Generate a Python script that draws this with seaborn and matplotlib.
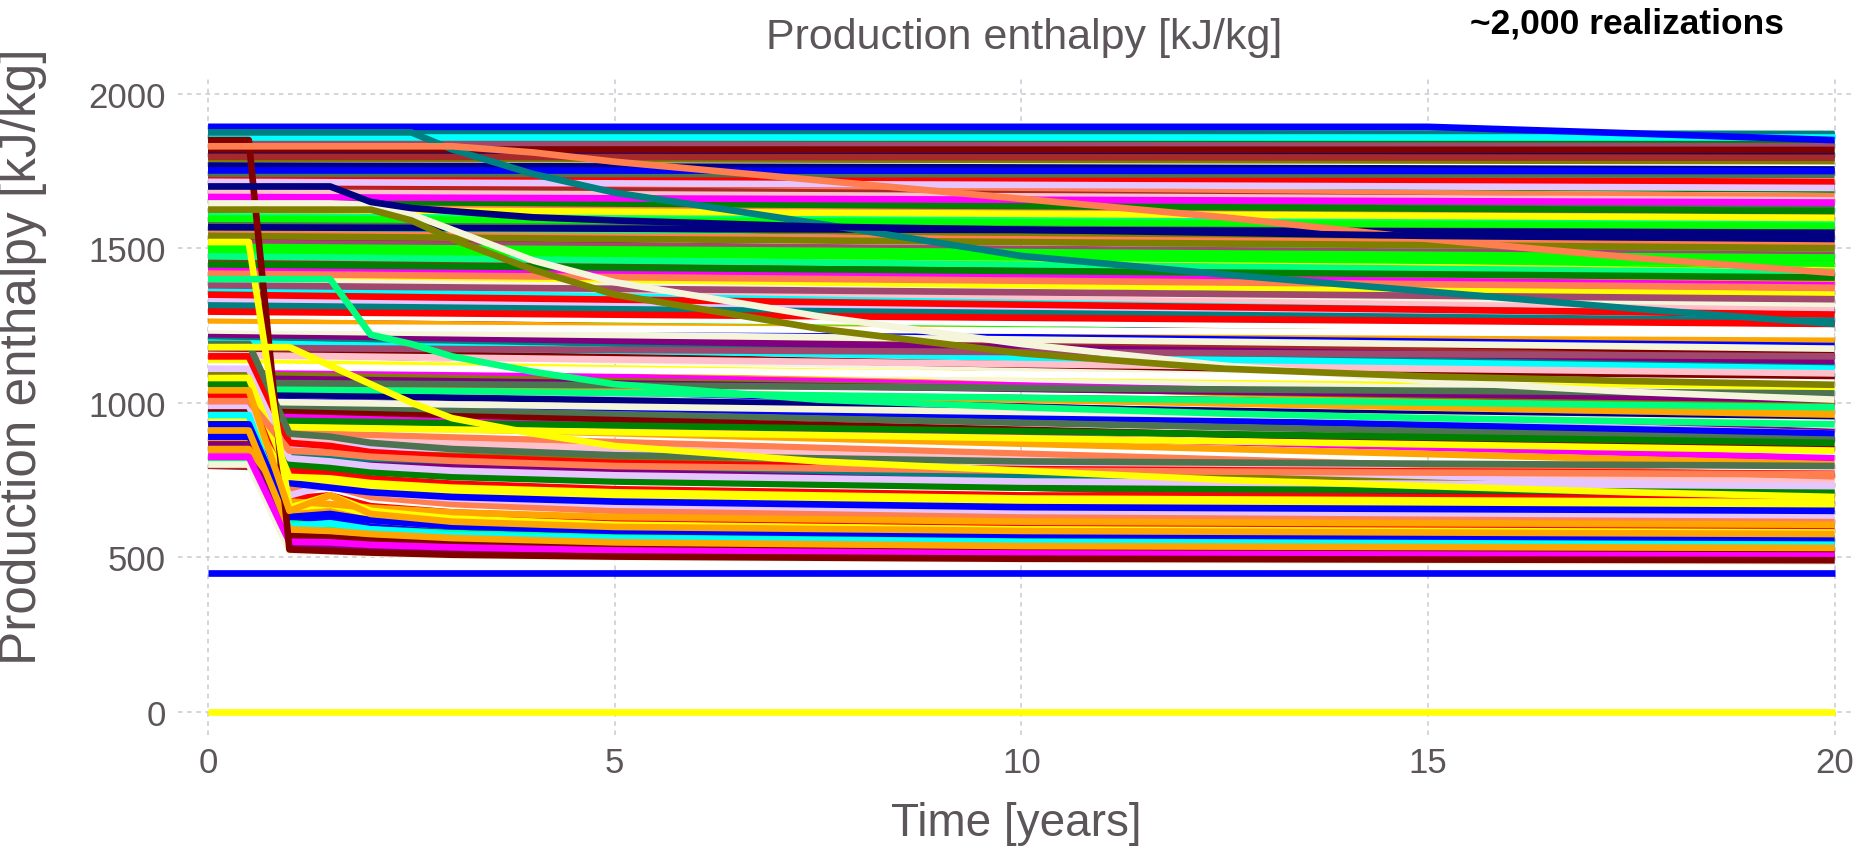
import pandas as pd
import matplotlib
matplotlib.use("Agg")
import matplotlib.pyplot as plt
import seaborn as sns

# ---------------- DATA ----------------

# near-flat realizations: (enthalpy at t=0, enthalpy at t=20)
flat_runs = [
    (1868, 1866), (1512, 1430), (1205, 1010), (1745, 1702), (1040, 990), (1630, 1585), (1321, 1180), (1802, 1790),
    (1150, 960), (1455, 1360), (1688, 1660), (1260, 1120), (1576, 1520), (1846, 1838), (1098, 905), (1405, 1290),
    (1722, 1690), (1181, 1040), (1533, 1445), (1355, 1250), (1612, 1570), (1780, 1770), (1072, 880), (1288, 1190),
    (1480, 1400), (1659, 1625), (1228, 1085), (1826, 1812), (1387, 1300), (1553, 1500), (1125, 980), (1704, 1668),
    (1019, 860), (1442, 1330), (1310, 1215), (1760, 1745), (1590, 1540), (1240, 1150), (1855, 1845), (1163, 1060),
    (1498, 1420), (1672, 1640), (1338, 1262), (1085, 935), (1620, 1600), (1425, 1340), (1733, 1715), (1196, 1095),
    (1275, 1160), (1565, 1480), (1813, 1800), (1111, 1000), (1467, 1390), (1642, 1610), (1372, 1305), (1052, 900),
    (1790, 1782), (1216, 1120), (1526, 1460), (1699, 1650), (1300, 1230), (1140, 1020), (1411, 1350), (1583, 1555),
    (1838, 1830), (1002, 820), (1250, 1190), (1490, 1450), (1711, 1700), (1365, 1280), (1172, 1075), (1604, 1580),
    (1768, 1755), (1435, 1380), (1060, 960), (1547, 1510), (1681, 1655), (1331, 1275), (1093, 1000), (1875, 1870),
    (1222, 1135), (1460, 1410), (1653, 1620), (1396, 1320), (1131, 1050), (1741, 1738), (1518, 1478), (1282, 1235),
    (1010, 900), (1596, 1572), (1350, 1285), (1188, 1110), (1820, 1818), (1474, 1420), (1030, 940), (1666, 1648),
    (1262, 1205), (1418, 1372), (1155, 1095), (1715, 1695), (1540, 1500), (1315, 1265), (1080, 1010), (1796, 1793),
    (1448, 1405), (1234, 1175), (1625, 1598), (990, 880), (1380, 1335), (1118, 1065), (1752, 1750), (1505, 1470),
    (1295, 1255), (1860, 1860), (975, 850), (1047, 985), (1568, 1550), (960, 820), (935, 800), (910, 760),
    (890, 740), (870, 720), (850, 705), (830, 690), (812, 670), (796, 655), (945, 870), (1005, 935),
    (925, 845), (1065, 1030), (1178, 1150), (1245, 1222),
]
flat_times = [0, 20]

# realizations with early thermal breakthrough
drop_times = [0, 0.5, 1, 1.5, 2, 3, 5, 10, 20]
drop_runs = [
    [805, 805, 540, 535, 525, 515, 505, 495, 488],
    [820, 820, 560, 555, 545, 530, 520, 510, 500],
    [830, 830, 580, 575, 562, 548, 535, 522, 512],
    [845, 845, 600, 610, 585, 570, 552, 540, 528],
    [860, 860, 620, 630, 600, 585, 568, 555, 545],
    [880, 880, 640, 650, 620, 600, 585, 570, 560],
    [900, 900, 570, 565, 555, 545, 532, 520, 515],
    [920, 920, 660, 670, 640, 620, 600, 588, 578],
    [950, 950, 690, 700, 665, 645, 625, 610, 598],
    [975, 975, 540, 545, 530, 520, 510, 500, 495],
    [1000, 1000, 720, 730, 695, 672, 650, 632, 620],
    [990, 990, 700, 735, 710, 690, 670, 650, 635],
    [815, 815, 610, 600, 590, 578, 565, 555, 548],
    [865, 865, 530, 528, 520, 512, 505, 497, 492],
    [940, 940, 760, 745, 730, 712, 695, 675, 662],
    [890, 890, 740, 725, 710, 695, 680, 662, 650],
    [1020, 1020, 780, 770, 755, 738, 720, 700, 688],
    [960, 960, 600, 610, 590, 572, 560, 548, 540],
    [1060, 1060, 800, 790, 775, 760, 745, 725, 710],
    [1110, 1110, 820, 810, 795, 780, 765, 745, 730],
    [800, 800, 520, 518, 512, 505, 500, 492, 486],
    [850, 850, 680, 672, 660, 645, 630, 615, 605],
    [930, 930, 630, 640, 620, 600, 585, 572, 562],
    [1080, 1080, 760, 755, 740, 725, 710, 690, 678],
    [1150, 1150, 870, 860, 840, 825, 805, 785, 770],
    [1190, 1190, 900, 890, 870, 850, 830, 810, 795],
    [1005, 1005, 845, 838, 825, 812, 795, 780, 768],
    [825, 825, 550, 548, 540, 532, 522, 512, 505],
    [910, 910, 590, 585, 575, 562, 548, 536, 530],
    [1850, 1850, 525, 520, 515, 508, 502, 495, 490],
    [1520, 1520, 660, 700, 650, 625, 605, 590, 580],
    [1040, 1040, 650, 700, 640, 615, 598, 585, 575],
]
drop_colors = ["#800080", "#a52a2a", "#00ffff", "#ff7f50", "#0000ff", "#ffa500", "#800000", "#ffff00",
               "#ff0000", "#800000", "#ff7f50", "#e6c6ff", "#00ff7f", "#800080", "#ffff00", "#0000ff",
               "#ff0000", "#00ffff", "#008000", "#e6c6ff", "#f5f5dc", "#ffa500", "#0000ff", "#ffff00",
               "#ff0000", "#4d7350", "#ff7f50", "#ff00ff", "#ffa500", "#800000", "#ffff00", "#ffa500"]

# the few realizations that stand out
key_times = [0, 0.5, 1, 1.5, 2, 2.5, 3, 4, 5, 7.5, 10, 12.5, 15, 17.5, 20]
key_runs = [
    [1893, 1893, 1893, 1893, 1893, 1893, 1893, 1893, 1893, 1893, 1893, 1893, 1893, 1872, 1850],
    [1875, 1875, 1875, 1875, 1875, 1875, 1820, 1740, 1680, 1580, 1475, 1415, 1360, 1305, 1255],
    [1830, 1830, 1830, 1830, 1830, 1830, 1830, 1810, 1780, 1720, 1660, 1600, 1530, 1470, 1420],
    [1645, 1645, 1645, 1645, 1640, 1610, 1560, 1460, 1390, 1280, 1190, 1120, 1070, 1035, 1010],
    [1625, 1625, 1625, 1625, 1625, 1590, 1530, 1430, 1350, 1240, 1160, 1110, 1085, 1070, 1058],
    [1700, 1700, 1700, 1700, 1650, 1630, 1620, 1600, 1590, 1570, 1560, 1550, 1540, 1535, 1530],
    [1400, 1400, 1400, 1400, 1220, 1190, 1150, 1100, 1060, 1010, 985, 965, 950, 940, 930],
    [1180, 1180, 1180, 1120, 1060, 1000, 950, 900, 860, 810, 780, 750, 730, 710, 695],
    [450, 450, 450, 450, 450, 450, 450, 450, 450, 450, 450, 450, 450, 450, 450],
    [0, 0, 0, 0, 0, 0, 0, 0, 0, 0, 0, 0, 0, 0, 0],
]
key_colors = ["#0000ff", "#008080", "#ff7f50", "#f5f5dc", "#808000", "#000080",
              "#00ff7f", "#ffff00", "#0000ff", "#ffff00"]

PALETTE = ["#0000ff", "#00ff00", "#ff0000", "#00ffff", "#800000", "#00ff7f", "#000080",
           "#ff00ff", "#ffa500", "#ff7f50", "#ffc0cb", "#e6c6ff", "#808000", "#008080",
           "#800080", "#a52a2a", "#008000", "#f5f5dc", "#ffff00", "#4d7350", "#a0486e",
           "#ffffff"]

# ---------------- PROCESSING ----------------

rows = []
colors = {}
n = 0
for s, e in flat_runs:
    name = f"r{n:04d}"
    for t, h in zip(flat_times, [s, e]):
        rows.append((name, t, h))
    colors[name] = PALETTE[n % len(PALETTE)]
    n += 1
for vals, c in zip(drop_runs, drop_colors):
    name = f"r{n:04d}"
    for t, h in zip(drop_times, vals):
        rows.append((name, t, h))
    colors[name] = c
    n += 1
for vals, c in zip(key_runs, key_colors):
    name = f"r{n:04d}"
    for t, h in zip(key_times, vals):
        rows.append((name, t, h))
    colors[name] = c
    n += 1

df = pd.DataFrame(rows, columns=["run", "Time", "Enthalpy"])

# ---------------- VISUALIZATION ----------------

sns.set_style("white")
plt.rcParams["font.family"] = ["Liberation Sans", "DejaVu Sans"]
txt = "#5c565b"

fig = plt.figure(figsize=(18.62, 8.54), dpi=100)
ax = fig.add_axes([0.0956, 0.138, 0.9006, 0.772])

sns.lineplot(data=df, x="Time", y="Enthalpy", hue="run", palette=colors,
             estimator=None, legend=False, linewidth=4.8, ax=ax,
             solid_capstyle="butt")

ax.set_xlim(-0.37, 20.25)
ax.set_ylim(-76, 2058)
ax.set_xticks([0, 5, 10, 15, 20])
ax.set_yticks([0, 500, 1000, 1500, 2000])
ax.grid(True, color="#c9c9d2", linestyle=(0, (3, 3)), linewidth=1.1)
ax.set_axisbelow(True)
for sp in ax.spines.values():
    sp.set_visible(False)
ax.tick_params(length=0, labelsize=25, labelcolor=txt)
ax.tick_params(axis="y", pad=9)
ax.tick_params(axis="x", pad=8)

ax.set_xlabel("Time [years]", fontsize=33, color=txt)
ax.set_ylabel("Production enthalpy [kJ/kg]", fontsize=37, color=txt)
ax.xaxis.set_label_coords(0.5, -0.1)
ax.yaxis.set_label_coords(-0.078, 0.575)

fig.text(0.55, 0.955, "Production enthalpy [kJ/kg]", fontsize=31, color=txt,
         ha="center", va="center")
fig.text(0.874, 0.972, "~2,000 realizations", fontsize=25.5, fontweight="bold",
         color="black", ha="center", va="center")

fig.savefig("out.png", dpi=100)
